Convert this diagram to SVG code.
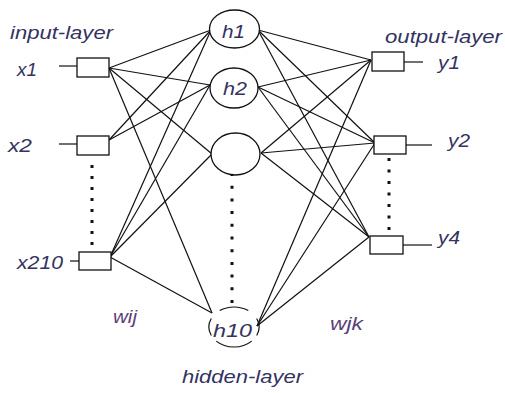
<svg xmlns="http://www.w3.org/2000/svg" width="505" height="393" viewBox="0 0 505 393">
  <style>
    .lbl { font-family: "Liberation Sans", Arial, sans-serif; font-style: italic; font-size: 19px; fill: #33335f; }
    .w { fill: #5a3f7a; }
    .box { fill: #ffffff; stroke: #111111; stroke-width: 1.3; }
    .node { fill: #ffffff; stroke: #111111; stroke-width: 1.3; }
    .wire { fill: none; stroke: #111111; stroke-width: 1.2; }
    .dots { fill: none; stroke: #111111; stroke-width: 3; }
  </style>
  <rect width="505" height="393" fill="#ffffff"/>

  <!-- weighted connections -->
  <g id="connectors" class="wire">
    <!-- input to hidden (wij) -->
    <line x1="109" y1="68" x2="211" y2="30"/>
    <line x1="109" y1="68" x2="210" y2="85"/>
    <line x1="109" y1="68" x2="212" y2="154"/>
    <line x1="109" y1="68" x2="212" y2="313"/>
    <line x1="109" y1="140" x2="211" y2="30"/>
    <line x1="109" y1="140" x2="210" y2="85"/>
    <line x1="110" y1="257" x2="211" y2="30"/>
    <line x1="110" y1="257" x2="210" y2="85"/>
    <line x1="110" y1="257" x2="212" y2="154"/>
    <line x1="110" y1="257" x2="212" y2="313"/>
    <!-- hidden to output (wjk) -->
    <line x1="258" y1="30" x2="371" y2="60"/>
    <line x1="258" y1="30" x2="375" y2="143"/>
    <line x1="258" y1="30" x2="369" y2="237"/>
    <line x1="258" y1="87" x2="371" y2="60"/>
    <line x1="258" y1="87" x2="375" y2="143"/>
    <line x1="258" y1="87" x2="369" y2="237"/>
    <line x1="261" y1="153" x2="371" y2="60"/>
    <line x1="261" y1="153" x2="375" y2="143"/>
    <line x1="261" y1="153" x2="369" y2="237"/>
    <line x1="257" y1="326" x2="371" y2="60"/>
    <line x1="257" y1="326" x2="375" y2="143"/>
    <line x1="257" y1="326" x2="369" y2="237"/>
    <!-- input / output stubs -->
    <line x1="59" y1="66" x2="77" y2="66"/>
    <line x1="59" y1="144" x2="77" y2="144"/>
    <line x1="70" y1="261" x2="79" y2="261"/>
    <line x1="404" y1="62" x2="423" y2="62"/>
    <line x1="406" y1="145" x2="432" y2="145"/>
    <line x1="403" y1="245" x2="432" y2="245"/>
  </g>

  <!-- elided units -->
  <g id="ellipsis">
    <line class="dots" x1="92" y1="165" x2="92" y2="246" stroke-dasharray="3 8"/>
    <line class="dots" x1="232" y1="173" x2="232" y2="305" stroke-dasharray="3 9.7"/>
    <line class="dots" x1="389" y1="158" x2="389" y2="231" stroke-dasharray="3 8.5"/>
  </g>

  <!-- input layer -->
  <g id="x1">
    <rect class="box" x="77" y="58" width="32" height="19"/>
    <text class="lbl" x="17" y="76" textLength="20" lengthAdjust="spacingAndGlyphs">x1</text>
  </g>
  <g id="x2">
    <rect class="box" x="77" y="136" width="32" height="19"/>
    <text class="lbl" x="8" y="152" textLength="24" lengthAdjust="spacingAndGlyphs">x2</text>
  </g>
  <g id="x210">
    <rect class="box" x="79" y="252" width="32" height="18"/>
    <text class="lbl" x="17" y="269" textLength="46" lengthAdjust="spacingAndGlyphs">x210</text>
  </g>

  <!-- hidden layer -->
  <g id="h1">
    <ellipse class="node" cx="234.5" cy="29" rx="25" ry="19"/>
    <text class="lbl" x="222" y="38" textLength="23" lengthAdjust="spacingAndGlyphs">h1</text>
  </g>
  <g id="h2">
    <ellipse class="node" cx="234" cy="88" rx="24" ry="20"/>
    <text class="lbl" x="223" y="95" textLength="24" lengthAdjust="spacingAndGlyphs">h2</text>
  </g>
  <g id="h3">
    <ellipse class="node" cx="235.5" cy="154" rx="24.5" ry="21"/>
  </g>
  <g id="h10">
    <path class="wire" d="M256.7 318.5 A25 20 0 0 1 256.7 335.5 M251.7 341.1 A25 20 0 0 1 216.3 341.1 M211.3 335.5 A25 20 0 0 1 211.3 318.5 M219.7 310.6 A25 20 0 0 1 248.3 310.6"/>
    <text class="lbl" x="213" y="337" textLength="39" lengthAdjust="spacingAndGlyphs">h10</text>
  </g>

  <!-- output layer -->
  <g id="y1">
    <rect class="box" x="372" y="52" width="32" height="19"/>
    <text class="lbl" x="438" y="69" textLength="22" lengthAdjust="spacingAndGlyphs">y1</text>
  </g>
  <g id="y2">
    <rect class="box" x="374" y="136" width="32" height="18"/>
    <text class="lbl" x="448" y="147" textLength="22" lengthAdjust="spacingAndGlyphs">y2</text>
  </g>
  <g id="y4">
    <rect class="box" x="370" y="236" width="33" height="18"/>
    <text class="lbl" x="438" y="244" textLength="22" lengthAdjust="spacingAndGlyphs">y4</text>
  </g>

  <!-- layer captions -->
  <g id="labels">
    <text class="lbl" x="10" y="39" font-size="18" textLength="103" lengthAdjust="spacingAndGlyphs">input-layer</text>
    <text class="lbl" x="385" y="43" font-size="18" textLength="117" lengthAdjust="spacingAndGlyphs">output-layer</text>
    <text class="lbl" x="182" y="383" font-size="18" textLength="121" lengthAdjust="spacingAndGlyphs">hidden-layer</text>
    <text class="lbl w" x="113" y="323" textLength="24" lengthAdjust="spacingAndGlyphs">wij</text>
    <text class="lbl w" x="330" y="330" textLength="33" lengthAdjust="spacingAndGlyphs">wjk</text>
  </g>
</svg>
